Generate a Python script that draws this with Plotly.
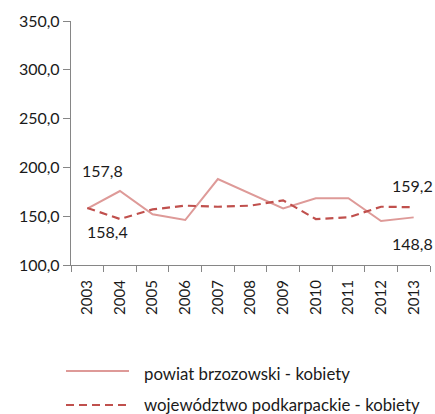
import plotly.graph_objects as go

# Years and series values
years = ["2003", "2004", "2005", "2006", "2007", "2008", "2009", "2010", "2011", "2012", "2013"]
powiat = [157.8, 175.8, 151.9, 146.1, 188.1, 173.0, 158.0, 168.3, 168.5, 145.1, 148.8]
wojewodztwo = [158.4, 147.1, 157.0, 160.8, 159.7, 160.8, 166.3, 147.1, 148.8, 159.7, 159.2]

name_powiat = "powiat brzozowski - kobiety"
name_woj = "województwo podkarpackie - kobiety"

c_powiat = "#DE9A98"
c_woj = "#C0504D"
font_family = "Lato, 'Open Sans', sans-serif"
text_color = "#1a1a1a"

W, H = 435, 414
L, R, T, B = 71, 5, 21, 149
plot_w = W - L - R
plot_h = H - T - B


def px_x(x):
    return (x - L) / plot_w


def px_y(y):
    return (H - B - y) / plot_h


fig = go.Figure()
fig.add_trace(go.Scatter(x=years, y=powiat, mode="lines", name=name_powiat,
                         line=dict(color=c_powiat, width=2), showlegend=False))
fig.add_trace(go.Scatter(x=years, y=wojewodztwo, mode="lines", name=name_woj,
                         line=dict(color=c_woj, width=2.2, dash="8px,5px"), showlegend=False))


def fmt(v):
    return f"{v:.1f}".replace(".", ",")


# value labels on first and last year (x given as category index)
last = len(years) - 1
labels = [
    (0, powiat[0], 15, -38),
    (0, wojewodztwo[0], 20, 23),
    (last, wojewodztwo[-1], -1, -22),
    (last, powiat[-1], -1, 26),
]
for x, v, ax, ay in labels:
    fig.add_annotation(x=x, y=v, xref="x", yref="y", text=fmt(v), showarrow=False,
                       xshift=ax, yshift=-ay,
                       font=dict(size=16, color=text_color, family=font_family))

# legend drawn below the axis
legend_rows = [
    (name_powiat, c_powiat, "solid", 371, 373, 129),
    (name_woj, c_woj, "8px,5px", 405, 404, 127),
]
for name, col, dash, ly, ty, lx1 in legend_rows:
    fig.add_shape(type="line", xref="paper", yref="paper",
                  x0=px_x(66), x1=px_x(lx1), y0=px_y(ly), y1=px_y(ly),
                  line=dict(color=col, width=2, dash=dash))
    fig.add_annotation(xref="paper", yref="paper", x=px_x(142), y=px_y(ty),
                       text=name, showarrow=False, xanchor="left", yanchor="middle",
                       font=dict(size=16.8, color=text_color, family=font_family))

fig.update_layout(
    width=W, height=H,
    margin=dict(l=L, r=R, t=T, b=B, pad=0),
    paper_bgcolor="white", plot_bgcolor="white",
    separators=", ",
    font=dict(family=font_family, color=text_color, size=16),
    showlegend=False,
)
fig.update_xaxes(
    type="category", range=[-0.5, 10.5], tickson="boundaries",
    showline=True, linecolor="#868686", linewidth=1.3,
    ticks="outside", ticklen=6, tickcolor="#868686", tickwidth=1.3,
    tickangle=-90, tickfont=dict(size=15), ticklabelstandoff=8,
    showgrid=False, zeroline=False,
)
fig.update_yaxes(
    range=[100, 350], dtick=50, tickformat=".1f",
    showline=True, linecolor="#868686", linewidth=1.3,
    ticks="outside", ticklen=7, tickcolor="#868686", tickwidth=1.3,
    tickfont=dict(size=16), showgrid=False, zeroline=False,
)

fig.write_html("out.html")
